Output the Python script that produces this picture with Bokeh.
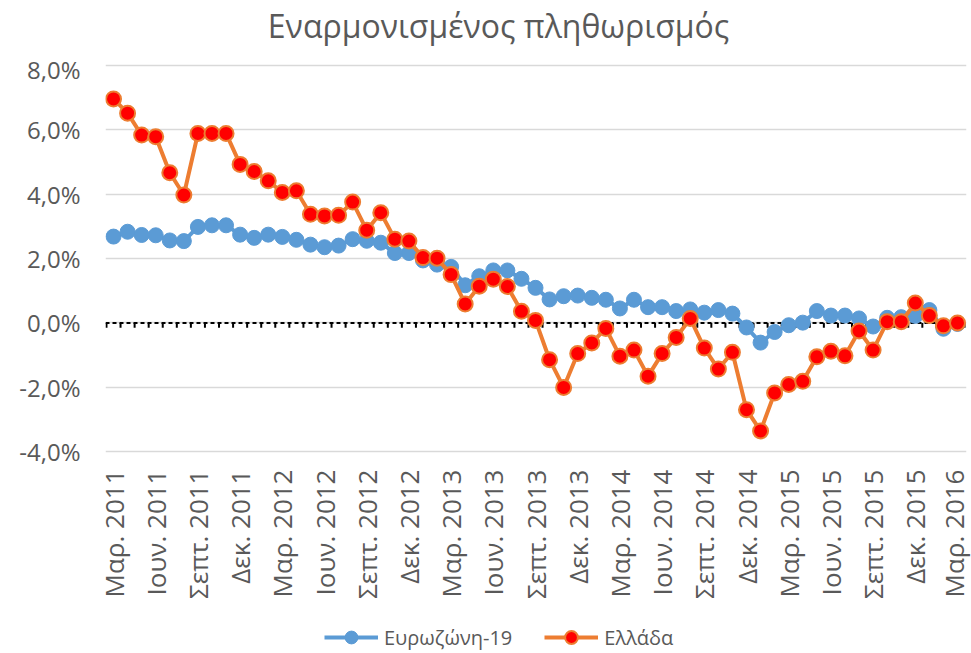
import math
from bokeh.plotting import figure
from bokeh.layouts import column
from bokeh.models import (Range1d, FixedTicker, Span, Legend, LegendItem, Label,
                          ColumnDataSource)
from bokeh.embed import file_html
from bokeh.resources import INLINE

# ---- data ----
months = list(range(61))  # Mar 2011 .. Mar 2016
eurozone = [2.68, 2.83, 2.73, 2.72, 2.56, 2.54, 2.98, 3.03, 3.03, 2.74,
            2.64, 2.74, 2.67, 2.58, 2.43, 2.35, 2.40, 2.60, 2.55, 2.49,
            2.17, 2.17, 1.94, 1.81, 1.74, 1.17, 1.45, 1.63, 1.63, 1.37,
            1.09, 0.73, 0.83, 0.85, 0.78, 0.72, 0.45, 0.72, 0.49, 0.49,
            0.37, 0.42, 0.32, 0.40, 0.29, -0.14, -0.61, -0.28, -0.07, 0.01,
            0.37, 0.23, 0.23, 0.14, -0.11, 0.16, 0.18, 0.22, 0.40, -0.18,
            -0.03]
greece = [6.95, 6.51, 5.83, 5.78, 4.66, 3.97, 5.88, 5.88, 5.88, 4.92,
          4.70, 4.41, 4.05, 4.10, 3.37, 3.32, 3.34, 3.75, 2.88, 3.42,
          2.60, 2.54, 2.03, 2.01, 1.50, 0.59, 1.14, 1.36, 1.13, 0.36,
          0.08, -1.14, -2.00, -0.95, -0.62, -0.17, -1.03, -0.84, -1.65, -0.95,
          -0.45, 0.14, -0.78, -1.43, -0.91, -2.69, -3.35, -2.17, -1.91, -1.81,
          -1.05, -0.88, -1.02, -0.25, -0.84, 0.04, 0.04, 0.62, 0.23, -0.09,
          0.0]
x_tick_positions = list(range(0, 61, 3))
x_tick_labels = ["Μαρ. 2011", "Ιουν. 2011", "Σεπτ. 2011", "Δεκ. 2011",
                 "Μαρ. 2012", "Ιουν. 2012", "Σεπτ. 2012", "Δεκ. 2012",
                 "Μαρ. 2013", "Ιουν. 2013", "Σεπτ. 2013", "Δεκ. 2013",
                 "Μαρ. 2014", "Ιουν. 2014", "Σεπτ. 2014", "Δεκ. 2014",
                 "Μαρ. 2015", "Ιουν. 2015", "Σεπτ. 2015", "Δεκ. 2015",
                 "Μαρ. 2016"]
y_tick_positions = [-4, -2, 0, 2, 4, 6, 8]
y_tick_labels = ["-4,0%", "-2,0%", "0,0%", "2,0%", "4,0%", "6,0%", "8,0%"]
series_names = ["Ευρωζώνη-19", "Ελλάδα"]
title_text = "Εναρμονισμένος πληθωρισμός"

FONT = "Open Sans"
TXT = "#595959"
BLUE = "#5B9BD5"
ORANGE = "#ED7D31"
RED = "#FF0000"

src = ColumnDataSource(dict(x=months, eu=eurozone, gr=greece))


def strip(height):
    f = figure(width=971, height=height, x_range=Range1d(0, 1), y_range=Range1d(100, 101),
               output_backend="svg", toolbar_location=None, min_border=0,
               x_axis_location=None, y_axis_location=None)
    f.grid.visible = False
    f.outline_line_color = None
    return f


# ---- title strip (its frame is aligned with the main frame, which starts at x=105) ----
t = strip(52)
t.add_layout(Label(x=393, y=27, x_units="screen", y_units="screen", text=title_text,
                   text_align="center", text_baseline="middle", text_font=FONT,
                   text_font_size="32px", text_color=TXT))

# ---- main chart ----
p = figure(width=971, height=559,
           x_range=Range1d(-0.57, 60.64), y_range=Range1d(-4.05, 8.05),
           output_backend="svg", toolbar_location=None,
           min_border_left=105, min_border_right=5,
           min_border_top=11, min_border_bottom=158)
p.outline_line_color = None
p.background_fill_color = "white"

p.xgrid.grid_line_color = None
p.ygrid.ticker = FixedTicker(ticks=y_tick_positions)
p.ygrid.grid_line_color = "#D9D9D9"
p.ygrid.grid_line_width = 1.5

p.yaxis.ticker = FixedTicker(ticks=y_tick_positions)
p.yaxis.major_label_overrides = {t_: l for t_, l in zip(y_tick_positions, y_tick_labels)}
p.yaxis.axis_line_color = None
p.yaxis.major_tick_line_color = None
p.yaxis.minor_tick_line_color = None
p.yaxis.major_label_text_font = FONT
p.yaxis.major_label_text_font_size = "24px"
p.yaxis.major_label_text_color = TXT
p.yaxis.major_label_standoff = 19

p.xaxis.ticker = FixedTicker(ticks=x_tick_positions)
p.xaxis.major_label_overrides = {t_: l for t_, l in zip(x_tick_positions, x_tick_labels)}
p.xaxis.major_label_orientation = math.pi / 2
p.xaxis.axis_line_color = None
p.xaxis.major_tick_line_color = None
p.xaxis.minor_tick_line_color = None
p.xaxis.major_label_text_font = FONT
p.xaxis.major_label_text_font_size = "26px"
p.xaxis.major_label_text_color = TXT
p.xaxis.major_label_standoff = 10

# zero axis line (dashed) with category tick marks
p.add_layout(Span(location=0, dimension="width", line_color="black",
                  line_width=2, line_dash="4 3", level="underlay"))
bounds = [m - 0.5 for m in months] + [months[-1] + 0.5]
p.segment(x0=bounds, x1=bounds, y0=[0] * len(bounds), y1=[-0.15] * len(bounds),
          line_color="black", line_width=2)


def draw_series(f):
    a = f.line("x", "eu", source=src, line_color=BLUE, line_width=4)
    b = f.scatter("x", "eu", source=src, size=15, fill_color=BLUE, line_color=BLUE)
    c = f.line("x", "gr", source=src, line_color=ORANGE, line_width=4)
    d = f.scatter("x", "gr", source=src, size=15, fill_color=RED, line_color=ORANGE,
                  line_width=2)
    return a, b, c, d


draw_series(p)

# ---- legend strip (same series renderers, outside its visible range) ----
q = strip(42)
ql1, qs1, ql2, qs2 = draw_series(q)
legend = Legend(items=[LegendItem(label=series_names[0], renderers=[ql1, qs1]),
                       LegendItem(label=series_names[1], renderers=[ql2, qs2])],
                orientation="horizontal", location=(219, 0),
                label_text_font=FONT, label_text_font_size="20px",
                label_text_color=TXT, glyph_width=54, glyph_height=32,
                label_height=20, label_standoff=6, spacing=32, padding=0, margin=0,
                border_line_color=None, background_fill_alpha=0)
q.add_layout(legend, "center")

open("out.html", "w").write(file_html(column(t, p, q, spacing=0), INLINE))
